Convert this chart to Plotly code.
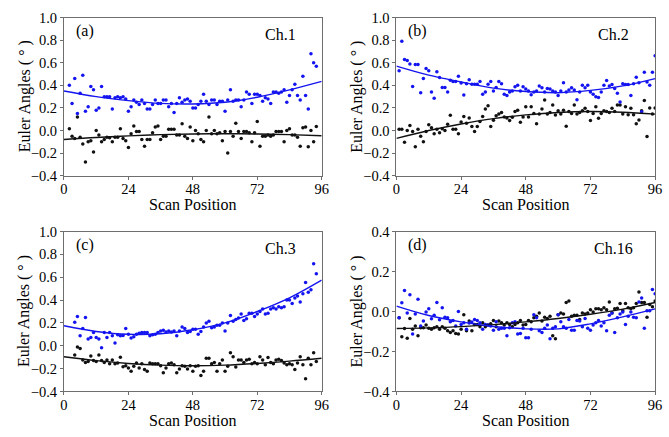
import plotly.graph_objects as go

# ---------------- data ----------------
pos_a = list(range(2, 95))
blue_a = [0.40, 0.24, 0.46, 0.15, 0.33, 0.49, 0.17, 0.21, 0.39, 0.36, 0.18, 0.20, 0.39, 0.30, 0.30, 0.30, 0.19, 0.29, 0.30, 0.29,
          0.30, 0.28, 0.17, 0.21, 0.27, 0.25, 0.23, 0.27, 0.24, 0.19, 0.19, 0.23, 0.27, 0.24, 0.24, 0.27, 0.27,
          0.21, 0.24, 0.16, 0.24, 0.29, 0.25, 0.27, 0.28, 0.26, 0.20, 0.20, 0.23, 0.26, 0.32, 0.26, 0.23, 0.27, 0.27, 0.23,
          0.26, 0.26, 0.17, 0.27, 0.36, 0.26, 0.27, 0.27, 0.21, 0.27, 0.34, 0.32, 0.24, 0.32, 0.32, 0.31, 0.26, 0.29, 0.28,
          0.24, 0.34, 0.34, 0.33, 0.34, 0.36, 0.25, 0.31, 0.36, 0.41, 0.31, 0.27, 0.48, 0.31, 0.19, 0.68, 0.60, 0.57]
black_a = [0.015, -0.05, -0.07, 0.12, -0.06, -0.12, -0.28, -0.10, -0.09, -0.19, 0.0, -0.04, -0.10, -0.08, -0.06, -0.065, -0.10,
           -0.06, -0.06, 0.015, -0.07, -0.09, -0.15, -0.03, 0.04, -0.01, -0.01, -0.08, -0.14, -0.08, -0.08, -0.02, 0.03, 0.04,
           -0.08, -0.05, -0.05, 0.01, 0.01,
           0.01, -0.04, -0.04, 0.06, -0.05, -0.07, 0.03, -0.09, 0.0, -0.03, -0.08, -0.10, 0.0, 0.12, -0.03, 0.0, -0.03, -0.02,
           -0.09, -0.01, -0.20, -0.01, -0.05, 0.065, -0.01, -0.07, -0.01, -0.01, -0.02, -0.10, -0.02, 0.08, -0.14, -0.05, -0.05,
           -0.04, -0.05, -0.04, -0.01, -0.01, -0.01, -0.10, 0.0, 0.015, -0.04, -0.04, -0.06, -0.14, 0.025, 0.03, -0.145, 0.0,
           -0.10, 0.035]

pos_b = list(range(1, 97))
blue_b = [0.53, 0.79, 0.63, 0.62, 0.59, 0.39, 0.585, 0.585, 0.335, 0.46, 0.55, 0.53, 0.34, 0.285, 0.52, 0.47, 0.38, 0.38, 0.34,
          0.445, 0.435, 0.435, 0.48, 0.42, 0.315, 0.415, 0.45, 0.41, 0.41, 0.41, 0.435, 0.32, 0.34, 0.41, 0.435, 0.35, 0.38,
          0.435, 0.415, 0.32, 0.31, 0.34, 0.35, 0.387, 0.40, 0.35, 0.387, 0.367, 0.35, 0.316, 0.34, 0.35, 0.395, 0.378, 0.34,
          0.373, 0.367, 0.35, 0.34, 0.31, 0.35, 0.424, 0.34, 0.358, 0.378, 0.358, 0.273, 0.34, 0.40, 0.378, 0.40, 0.34, 0.32,
          0.30, 0.293, 0.34, 0.40, 0.444, 0.395, 0.407, 0.373, 0.33, 0.253, 0.415, 0.407, 0.407, 0.31, 0.415, 0.472, 0.424,
          0.165, 0.515, 0.43, 0.40, 0.515, 0.663]
black_b = [0.01, 0.01, -0.105, 0.0, 0.045, -0.01, -0.145, 0.01, -0.05, -0.10, -0.01, 0.05, 0.025, -0.03, 0.01, -0.02, 0.015,
           0.0, 0.055, 0.135, 0.01, 0.01, -0.03, 0.075, 0.125, 0.065, 0.11, 0.035, -0.01, 0.035, 0.08, 0.125, 0.19, 0.22, 0.035,
           0.09, 0.13,
           0.145, 0.16, 0.12, 0.11, 0.088, 0.117, 0.168, 0.18, 0.074, 0.12, 0.21, 0.12, 0.21, 0.15, 0.06, 0.145, 0.19, 0.27,
           0.145, 0.16, 0.225, 0.137, 0.174, 0.145, 0.18, 0.037, 0.168, 0.15, 0.225, 0.145, 0.16, 0.174, 0.196, 0.168, 0.088,
           0.15, 0.21, 0.108, 0.15, 0.174, 0.168, 0.16, 0.196, 0.168, 0.225, 0.225, 0.145, 0.21, 0.14, 0.196, 0.14, 0.06,
           0.094, 0.174, 0.265, -0.054, 0.20, 0.145, 0.20]

pos_c = list(range(4, 95))
blue_c = [0.206, 0.257, 0.088, 0.152, 0.248, 0.06, 0.073, 0.116, 0.073, 0.06, -0.017, 0.116, 0.073, 0.116, 0.088, 0.023, 0.096,
          0.088, 0.09, 0.152, 0.10, 0.068, 0.079, 0.10, 0.11, 0.116, 0.116, 0.116, 0.088, 0.096, 0.10, 0.116, 0.13, 0.135,
          0.12, 0.13, 0.12,
          0.13, 0.088, 0.13, 0.164, 0.152, 0.116, 0.124, 0.144, 0.144, 0.10, 0.124, 0.164, 0.20, 0.215, 0.158, 0.164, 0.18,
          0.18, 0.20, 0.13, 0.20, 0.265, 0.215, 0.229, 0.243, 0.277, 0.22, 0.237, 0.285, 0.285, 0.257, 0.277, 0.30, 0.322,
          0.277, 0.285, 0.322, 0.333, 0.322, 0.342, 0.333, 0.342, 0.40, 0.40, 0.37, 0.418, 0.435, 0.384, 0.455, 0.553, 0.469,
          0.49, 0.717, 0.63]
black_c = [-0.082, -0.01, -0.025, -0.124, -0.147, -0.138, -0.09, -0.13, -0.138, -0.082, -0.13, -0.147, -0.124, -0.158, -0.124,
           -0.158, -0.152, -0.10, -0.185, -0.175, -0.195, -0.223, -0.18, -0.152, -0.195, -0.158, -0.209, -0.223, -0.152,
           -0.158, -0.158, -0.158, -0.175, -0.237, -0.195, -0.158, -0.152,
           -0.167, -0.236, -0.203, -0.175, -0.18, -0.203, -0.175, -0.223, -0.18, -0.175, -0.26, -0.223, -0.11, -0.11, -0.158,
           -0.147, -0.223, -0.158, -0.124, -0.223, -0.18, -0.062, -0.096, -0.186, -0.124, -0.124, -0.147, -0.124, -0.118,
           -0.158, -0.147, -0.158, -0.096, -0.124, -0.167, -0.104, -0.147, -0.158, -0.124, -0.118, -0.13, -0.152, -0.167,
           -0.158, -0.167, -0.209, -0.152, -0.096, -0.167, -0.288, -0.11, -0.167, -0.062, -0.138]

pos_d = list(range(1, 97))
blue_d = [-0.032, 0.044, 0.105, -0.008, 0.084, -0.113, -0.013, 0.061, -0.073, -0.048, -0.003, 0.013, -0.037, -0.019, 0.045,
          -0.042, 0.019, -0.029, -0.032, -0.052, -0.045, -0.073, 0.0, -0.065, -0.056, -0.089, -0.058, -0.053, -0.04, -0.045,
          -0.056, -0.089, -0.065, -0.068, -0.073, -0.094, -0.052,
          -0.089, -0.084, -0.084, -0.121, -0.081, -0.056, -0.052, -0.113, -0.11, -0.084, -0.132, -0.132, -0.089, -0.016,
          -0.032, -0.097, -0.105, -0.084, -0.068, -0.137, -0.084, -0.077, -0.016, -0.052, -0.077, -0.084, -0.04, -0.094,
          -0.094, -0.045, -0.048, -0.077, -0.035, -0.084, -0.094, -0.068, -0.056, -0.045, -0.073, -0.056, -0.097, -0.019,
          -0.008, -0.105, -0.032, -0.013, -0.003, -0.065, -0.024, -0.003, -0.029, -0.032, 0.048, 0.068, -0.084, 0.003, 0.003,
          0.11, 0.089]
black_d = [-0.032, -0.126, -0.085, -0.134, -0.035, -0.089, -0.073, -0.121, -0.081, -0.081, -0.068, -0.084, -0.089, -0.081,
           -0.077, -0.089, -0.077, -0.084, -0.097, -0.105, -0.097, -0.11, -0.113, -0.089, -0.016, -0.097, -0.048, -0.097,
           -0.065, -0.065, -0.077, -0.056, -0.077, -0.068, -0.061, -0.045, -0.077,
           -0.048, -0.056, -0.068, -0.056, -0.065, -0.077, -0.065, -0.056, -0.045, -0.068, -0.065, -0.045, -0.052, -0.032,
           -0.024, -0.008, -0.048, -0.029, -0.035, -0.024, -0.121, -0.137, -0.016, -0.008, -0.013, 0.045, 0.052, -0.024,
           -0.019, -0.019, -0.04, -0.008, -0.013, -0.008, 0.008, -0.003, 0.013, 0.013, 0.008, 0.019, 0.008, 0.048, -0.008,
           0.013, 0.016, 0.04, 0.003, 0.04, 0.019, 0.013, 0.019, 0.04, 0.097, 0.045, 0.045, -0.029, 0.035, 0.024, 0.052]

# fitted trend curves, read at these scan positions
fit_pos = [0, 12, 24, 36, 48, 60, 72, 84, 96]
fit_a_blue = [0.35, 0.30, 0.265, 0.24, 0.235, 0.25, 0.295, 0.36, 0.435]
fit_a_black = [-0.08, -0.062, -0.048, -0.037, -0.031, -0.029, -0.031, -0.037, -0.046]
fit_b_blue = [0.57, 0.49, 0.43, 0.375, 0.345, 0.335, 0.355, 0.395, 0.46]
fit_b_black = [-0.07, 0.0, 0.058, 0.105, 0.138, 0.16, 0.168, 0.162, 0.145]
fit_c_blue = [0.175, 0.125, 0.10, 0.105, 0.14, 0.20, 0.30, 0.42, 0.575]
fit_c_black = [-0.096, -0.13, -0.155, -0.17, -0.175, -0.17, -0.155, -0.135, -0.11]
fit_d_blue = [0.027, -0.02, -0.052, -0.075, -0.087, -0.087, -0.062, -0.027, 0.013]
fit_d_black = [-0.085, -0.082, -0.076, -0.066, -0.052, -0.035, -0.014, 0.012, 0.045]

panel_tags = ["(a)", "(b)", "(c)", "(d)"]
channel_names = ["Ch.1", "Ch.2", "Ch.3", "Ch.16"]
x_ticks = [0, 24, 48, 72, 96]
x_title = "Scan Position"
y_title = "Euler Angles ( ° )"

# ---------------- figure ----------------
W, H = 669, 437
FONT = "Liberation Serif, Times New Roman, serif"
BLUE = "#1414f0"
BLACK = "#111111"
AXC = "#6e6e6e"

panels = [
    (pos_a, blue_a, black_a, fit_a_blue, fit_a_black, [-0.4, 1.0]),
    (pos_b, blue_b, black_b, fit_b_blue, fit_b_black, [-0.4, 1.0]),
    (pos_c, blue_c, black_c, fit_c_blue, fit_c_black, [-0.4, 1.0]),
    (pos_d, blue_d, black_d, fit_d_blue, fit_d_black, [-0.4, 0.4]),
]
# pixel boxes of plot areas (left, right, top, bottom)
boxes = [(61, 323, 10, 174), (399, 662, 10, 174), (61, 323, 232, 398), (399, 662, 232, 398)]

fig = go.Figure()
layout = dict(width=W, height=H, margin=dict(l=0, r=0, t=0, b=0),
              paper_bgcolor="white", plot_bgcolor="white", showlegend=False,
              font=dict(family=FONT, size=15, color="black"))
annotations = []
for i, (pos, bl, bk, fbl, fbk, yr) in enumerate(panels):
    n = "" if i == 0 else str(i + 1)
    xa, ya = "x" + n, "y" + n
    l, r, t, b = boxes[i]
    layout["xaxis" + n] = dict(domain=[l / W, r / W], range=[0, 96], tickvals=x_ticks, anchor=ya,
                               showline=True, mirror=True, linecolor=AXC, linewidth=1,
                               ticks="outside", ticklen=3, tickcolor=AXC, showgrid=False, zeroline=False,
                               ticklabelstandoff=-3, tickfont=dict(size=14.5, family=FONT))
    layout["yaxis" + n] = dict(domain=[1 - b / H, 1 - t / H], range=yr, dtick=0.2, tickformat=".1f", anchor=xa,
                               showline=True, mirror=True, linecolor=AXC, linewidth=1,
                               ticks="outside", ticklen=3, tickcolor=AXC, showgrid=False, zeroline=False,
                               tickfont=dict(size=14.5, family=FONT))
    fig.add_trace(go.Scatter(x=pos, y=bk, mode="markers", marker=dict(size=3.5, color=BLACK),
                             xaxis=xa, yaxis=ya))
    fig.add_trace(go.Scatter(x=pos, y=bl, mode="markers", marker=dict(size=3.5, color=BLUE),
                             xaxis=xa, yaxis=ya))
    fig.add_trace(go.Scatter(x=fit_pos, y=fbk, mode="lines", line=dict(color=BLACK, width=1.4, shape="spline"),
                             xaxis=xa, yaxis=ya))
    fig.add_trace(go.Scatter(x=fit_pos, y=fbl, mode="lines", line=dict(color=BLUE, width=1.4, shape="spline"),
                             xaxis=xa, yaxis=ya))
    ph = b - t
    # panel tag and channel name
    annotations.append(dict(text=panel_tags[i], xref=xa + " domain", yref=ya + " domain",
                            x=(82 - 61) / 262, y=1 - 14 / ph, xanchor="center", yanchor="middle",
                            showarrow=False, font=dict(size=16, family=FONT)))
    annotations.append(dict(text=channel_names[i], xref=xa + " domain", yref=ya + " domain",
                            x=(281 - 61) / 262, y=1 - 18 / ph, xanchor="center", yanchor="middle",
                            showarrow=False, font=dict(size=16, family=FONT)))
    # axis titles
    annotations.append(dict(text=x_title, xref="paper", yref="paper", x=(l + r) / 2 / W,
                            y=1 - (b + 30) / H, xanchor="center", yanchor="middle",
                            showarrow=False, font=dict(size=16, family=FONT)))
    annotations.append(dict(text=y_title, xref="paper", yref="paper", x=(l - 40) / W,
                            y=1 - (t + b) / 2 / H, xanchor="center", yanchor="middle",
                            showarrow=False, textangle=-90, font=dict(size=16, family=FONT)))

layout["annotations"] = annotations
fig.update_layout(**layout)
fig.write_html("out.html", config={"displayModeBar": False},
               post_script="document.body.style.margin='0px';")
